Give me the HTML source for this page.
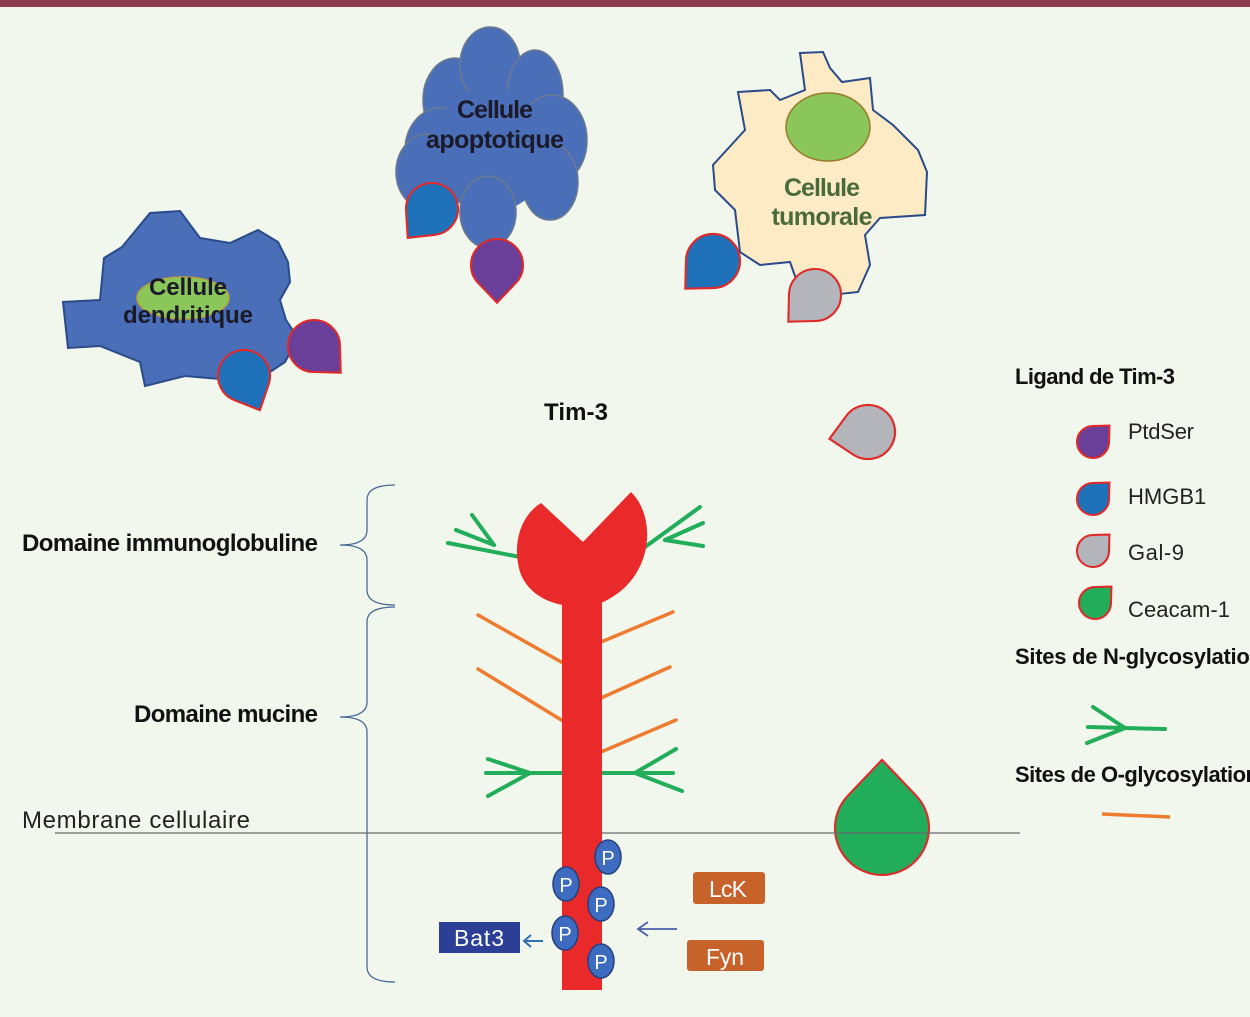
<!DOCTYPE html>
<html><head><meta charset="utf-8"><style>
html,body{margin:0;padding:0;background:#f1f7ec;}
svg{display:block;}
text{font-family:"Liberation Sans",sans-serif;}
.b{font-weight:bold;}
</style></head><body>
<svg width="1250" height="1017" viewBox="0 0 1250 1017" xmlns="http://www.w3.org/2000/svg">
<defs>
<path id="drop" d="M0,1.45 L-0.724,0.69 A1,1 0 1 1 0.724,0.69 Z"/>
</defs>
<rect width="1250" height="1017" fill="#f1f7ec"/>
<rect width="1250" height="7" fill="#8b3d4f"/>

<!-- dendritic cell -->
<path d="M150,213 L180,211 L200,238 L230,243 L258,230 L278,242 L288,262 L290,282 L280,300 L286,320 L298,338 L285,362 L255,382 L185,376 L145,386 L140,362 L100,346 L68,348 L63,302 L100,300 L104,258 L122,247 Z" fill="#4a6fb8" stroke="#2a4a8a" stroke-width="2"/>
<ellipse cx="183" cy="298" rx="46" ry="21" fill="#8bc65a" stroke="#b9a23a" stroke-width="1.5"/>
<text x="188" y="295" text-anchor="middle" class="b" font-size="24" fill="#1a1a2a" textLength="78">Cellule</text>
<text x="188" y="323" text-anchor="middle" class="b" font-size="24" fill="#1a1a2a" textLength="130">dendritique</text>

<!-- apoptotic cell -->
<g fill="#4a6fb8" stroke="#6b7a8f" stroke-width="1.5">
<ellipse cx="455" cy="100" rx="32" ry="42"/>
<ellipse cx="490" cy="65" rx="30" ry="38"/>
<ellipse cx="535" cy="95" rx="28" ry="45"/>
<ellipse cx="552" cy="140" rx="35" ry="45"/>
<ellipse cx="440" cy="150" rx="35" ry="42"/>
<ellipse cx="428" cy="172" rx="32" ry="38"/>
<ellipse cx="550" cy="182" rx="28" ry="38"/>
<ellipse cx="490" cy="150" rx="60" ry="62" stroke="none"/>
<ellipse cx="488" cy="212" rx="28" ry="36"/>
</g>
<text x="495" y="118" text-anchor="middle" class="b" font-size="25" fill="#1a1a2a" textLength="76">Cellule</text>
<text x="495" y="148" text-anchor="middle" class="b" font-size="25" fill="#1a1a2a" textLength="138">apoptotique</text>

<!-- tumor cell -->
<path d="M800,53 L823,52 L830,68 L842,82 L870,78 L873,110 L893,125 L918,150 L927,172 L925,215 L880,218 L865,235 L870,265 L858,292 L830,295 L800,290 L790,262 L760,265 L740,252 L735,210 L715,190 L713,165 L745,130 L738,92 L770,90 L780,100 L805,90 Z" fill="#fdebc6" stroke="#2a4a8a" stroke-width="2"/>
<ellipse cx="828" cy="127" rx="42" ry="34" fill="#8bc65a" stroke="#9a7a2a" stroke-width="1.5"/>
<text x="822" y="196" text-anchor="middle" class="b" font-size="25" fill="#4a6a3a" textLength="76">Cellule</text>
<text x="822" y="225" text-anchor="middle" class="b" font-size="25" fill="#4a6a3a" textLength="101">tumorale</text>

<!-- drops -->
<g stroke="#e02a2a">
<use href="#drop" transform="translate(244,376) rotate(-25) scale(26)" fill="#1f72ba" style="stroke-width:0.08"/>
<use href="#drop" transform="translate(314,346) rotate(-45) scale(26)" fill="#6a3f9a" style="stroke-width:0.08"/>
<use href="#drop" transform="translate(432,209) rotate(40) scale(26)" fill="#1f72ba" style="stroke-width:0.08"/>
<use href="#drop" transform="translate(497,265) rotate(0) scale(26)" fill="#6a3f9a" style="stroke-width:0.08"/>
<use href="#drop" transform="translate(713,261) rotate(45) scale(27)" fill="#1f72ba" style="stroke-width:0.08"/>
<use href="#drop" transform="translate(815,295) rotate(45) scale(26)" fill="#b3b5ba" style="stroke-width:0.08"/>
<use href="#drop" transform="translate(868,432) rotate(80) scale(27)" fill="#b3b5ba" style="stroke-width:0.08"/>
<use href="#drop" transform="translate(882,828) rotate(180) scale(47)" fill="#22ad5a" style="stroke-width:0.045"/>
<use href="#drop" transform="translate(1093,442) rotate(-135) scale(16)" fill="#6a3f9a" style="stroke-width:0.13"/>
<use href="#drop" transform="translate(1093,499) rotate(-135) scale(16)" fill="#1f72ba" style="stroke-width:0.13"/>
<use href="#drop" transform="translate(1093,551) rotate(-135) scale(16)" fill="#b3b5ba" style="stroke-width:0.13"/>
<use href="#drop" transform="translate(1095,603) rotate(-135) scale(16)" fill="#22ad5a" style="stroke-width:0.13"/>
</g>

<text x="576" y="420" text-anchor="middle" class="b" font-size="24" fill="#111" textLength="64">Tim-3</text>

<!-- legend -->
<text x="1015" y="384" class="b" font-size="22" fill="#111" textLength="160">Ligand de Tim-3</text>
<g font-size="22" fill="#222">
<text x="1128" y="439" textLength="66">PtdSer</text>
<text x="1128" y="504">HMGB1</text>
<text x="1128" y="560" textLength="56">Gal-9</text>
<text x="1128" y="617" textLength="102">Ceacam-1</text>
</g>
<text x="1015" y="664" class="b" font-size="22" fill="#111" textLength="248">Sites de N-glycosylation</text>
<text x="1015" y="782" class="b" font-size="22" fill="#111" textLength="244">Sites de O-glycosylation</text>
<g stroke="#22ad5a" stroke-width="4" stroke-linecap="round">
<line x1="1125" y1="728" x2="1165" y2="729"/>
<line x1="1125" y1="728" x2="1093" y2="707"/>
<line x1="1125" y1="728" x2="1087" y2="743"/>
<line x1="1125" y1="728" x2="1088" y2="727"/>
</g>
<line x1="1102" y1="814" x2="1170" y2="817" stroke="#ee7c30" stroke-width="3.5"/>

<!-- left labels -->
<text x="22" y="551" class="b" font-size="24" fill="#111" textLength="296">Domaine immunoglobuline</text>
<text x="134" y="722" class="b" font-size="24" fill="#111" textLength="184">Domaine mucine</text>
<text x="22" y="828" font-size="24" fill="#222" textLength="228">Membrane cellulaire</text>
<g fill="none" stroke="#4a6a9a" stroke-width="1.3">
<path d="M395,485 Q367,485 367,500 L367,530 Q367,545 340,545 Q367,545 367,560 L367,590 Q367,605 395,605"/>
<path d="M395,607 Q367,607 367,622 L367,702 Q367,717 340,717 Q367,717 367,732 L367,967 Q367,982 395,982"/>
</g>
<line x1="55" y1="833" x2="1020" y2="833" stroke="#6a6a6a" stroke-width="1.3"/>

<!-- glyco branches -->
<g stroke="#ee7c30" stroke-width="3.5" stroke-linecap="round">
<line x1="478" y1="615" x2="563" y2="663"/>
<line x1="478" y1="669" x2="563" y2="721"/>
<line x1="601" y1="642" x2="673" y2="612"/>
<line x1="601" y1="698" x2="670" y2="667"/>
<line x1="601" y1="752" x2="676" y2="720"/>
</g>
<g stroke="#22ad5a" stroke-width="4" stroke-linecap="round">
<line x1="448" y1="543" x2="520" y2="557"/>
<line x1="494" y1="545" x2="472" y2="515"/>
<line x1="494" y1="545" x2="456" y2="530"/>
<line x1="645" y1="547" x2="700" y2="507"/>
<line x1="665" y1="540" x2="703" y2="523"/>
<line x1="665" y1="540" x2="703" y2="546"/>
<line x1="486" y1="773" x2="563" y2="773"/>
<line x1="530" y1="773" x2="488" y2="759"/>
<line x1="530" y1="773" x2="488" y2="796"/>
<line x1="600" y1="773" x2="673" y2="773"/>
<line x1="635" y1="773" x2="676" y2="749"/>
<line x1="635" y1="773" x2="682" y2="791"/>
</g>

<!-- protein -->
<rect x="562" y="590" width="40" height="400" fill="#ea2a2a"/>
<path d="M541,503 L583,542 L631,492 C652,512 656,560 622,590 C606,603 592,607 583,607 C560,607 530,600 520,572 C512,545 520,516 541,503 Z" fill="#ea2a2a"/>

<!-- P -->
<g fill="#3d6bbf" stroke="#23407f" stroke-width="1.5">
<ellipse cx="608" cy="857" rx="13" ry="17"/>
<ellipse cx="566" cy="884" rx="13" ry="17"/>
<ellipse cx="601" cy="904" rx="13" ry="17"/>
<ellipse cx="565" cy="933" rx="13" ry="17"/>
<ellipse cx="601" cy="961" rx="13" ry="17"/>
</g>
<g fill="#fff" font-size="20" text-anchor="middle">
<text x="608" y="865">P</text>
<text x="566" y="892">P</text>
<text x="601" y="912">P</text>
<text x="565" y="941">P</text>
<text x="601" y="969">P</text>
</g>

<rect x="439" y="922" width="81" height="31" fill="#2b3f96"/>
<text x="479" y="946" text-anchor="middle" font-size="23" fill="#fff" textLength="50">Bat3</text>
<rect x="693" y="872" width="72" height="32" rx="3" fill="#c6622a"/>
<text x="728" y="897" text-anchor="middle" font-size="23" fill="#fff" textLength="38">LcK</text>
<rect x="687" y="940" width="77" height="31" rx="3" fill="#c6622a"/>
<text x="725" y="965" text-anchor="middle" font-size="23" fill="#fff" textLength="38">Fyn</text>
<g stroke="#2f6fb0" stroke-width="2" fill="none">
<line x1="543" y1="941" x2="524" y2="941"/>
<polyline points="531,935 524,941 531,947"/>
</g>
<g stroke="#4a5fa8" stroke-width="1.8" fill="none">
<line x1="677" y1="929" x2="638" y2="929"/>
<polyline points="648,922 638,929 648,936"/>
</g>
</svg>
</body></html>
